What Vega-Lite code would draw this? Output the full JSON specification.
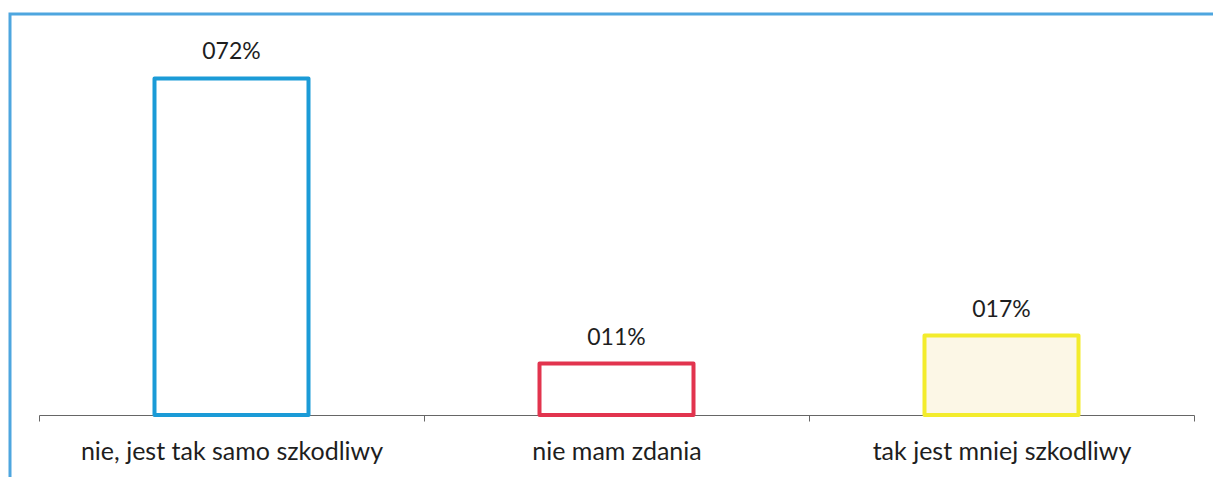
{
  "$schema": "https://vega.github.io/schema/vega-lite/v6.json",
  "autosize": "none",
  "padding": {"left": 10, "top": 14, "right": 0, "bottom": 0},
  "width": 1213,
  "height": 475,
  "background": "white",
  "config": {
    "view": {"stroke": "#4ea6df", "strokeWidth": 3},
    "font": "Lato"
  },
  "data": {
    "values": [
      {"odp": "nie, jest tak samo szkodliwy", "v": 72, "label": "072%", "kolor": "blue"},
      {"odp": "nie mam zdania", "v": 11, "label": "011%", "kolor": "red"},
      {"odp": "tak jest mniej szkodliwy", "v": 17, "label": "017%", "kolor": "yellow"}
    ]
  },
  "encoding": {
    "x": {
      "field": "odp", "type": "nominal", "sort": null,
      "scale": {"range": [29, 1184], "paddingInner": 0, "paddingOuter": 0},
      "axis": {
        "title": null, "labelAngle": 0, "offset": -74, "labelLimit": 0,
        "tickBand": "extent", "tickSize": 6, "tickColor": "#666", "domainColor": "#666",
        "labelFont": "Lato", "labelFontSize": 25, "labelColor": "#1e1e1e", "labelPadding": 18
      }
    },
    "y": {
      "field": "v", "type": "quantitative",
      "scale": {"domain": [0, 80], "range": [401, 27]},
      "axis": null
    }
  },
  "layer": [
    {
      "mark": {"type": "bar", "width": {"band": 0.4}, "strokeWidth": 4, "strokeOpacity": 1, "strokeJoin": "round"},
      "encoding": {
        "stroke": {"field": "kolor", "type": "nominal", "legend": null,
          "scale": {"domain": ["blue", "red", "yellow"], "range": ["#1b9bd7", "#e2344e", "#f3ec2c"]}},
        "fill": {"field": "kolor", "type": "nominal", "legend": null,
          "scale": {"domain": ["blue", "red", "yellow"], "range": ["#ffffff", "#ffffff", "#fcf7e6"]}}
      }
    },
    {
      "mark": {"type": "text", "baseline": "bottom", "dy": -14, "fontSize": 23, "font": "Lato", "color": "#1e1e1e"},
      "encoding": {"text": {"field": "label"}}
    }
  ]
}
